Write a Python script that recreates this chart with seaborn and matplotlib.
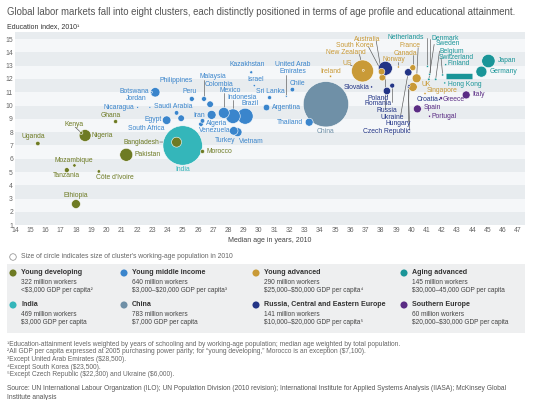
import matplotlib
matplotlib.use("Agg")
import matplotlib.pyplot as plt
import seaborn as sns
import pandas as pd
from matplotlib.patches import Rectangle

sns.set_theme(style="white")
plt.rcParams['font.family'] = ['Liberation Sans', 'DejaVu Sans']

# ---------------- data ----------------
countries = [
    "Uganda", "Kenya", "Nigeria", "Ghana", "Mozambique", "Tanzania", "Côte d'Ivoire", "Ethiopia",
    "Pakistan", "Bangladesh", "Morocco",
    "Botswana", "Philippines", "Jordan", "Nicaragua", "Saudi Arabia", "Egypt", "South Africa", "Peru",
    "Malaysia", "Colombia", "Iran", "Algeria", "Venezuela", "Mexico", "Indonesia", "Brazil", "Turkey",
    "Vietnam", "Kazakhstan", "Israel", "Sri Lanka", "Argentina", "United Arab Emirates", "Chile", "Thailand",
    "China", "India",
    "US", "Ireland", "New Zealand", "Australia", "South Korea", "Norway", "France", "Canada", "UK", "Singapore",
    "Russia", "Slovakia", "Poland", "Romania", "Ukraine", "Hungary", "Czech Republic", "Croatia",
    "Netherlands", "Denmark", "Sweden", "Belgium", "Switzerland", "Finland", "Hong Kong", "Japan", "Germany",
    "Italy", "Spain", "Portugal", "Greece",
]
clusters = (["Young developing"] * 11 + ["Young middle income"] * 25 + ["China", "India"]
            + ["Young advanced"] * 10 + ["Russia, Central and Eastern Europe"] * 8
            + ["Aging advanced"] * 9 + ["Southern Europe"] * 4)
median_age = [
    15.5, 18.35, 18.6, 20.6, 17.9, 17.4, 19.5, 18.0, 21.3, 24.6, 26.3,
    22.95, 23.2, 22.85, 22.05, 24.6, 23.95, 24.9, 25.6, 26.4, 26.8, 26.9, 26.3, 26.2, 27.7, 28.3, 29.1, 28.35,
    28.6, 29.5, 29.7, 30.7, 30.5, 31.8, 32.2, 33.3,
    34.4, 25.0,
    36.8, 34.7, 36.85, 38.1, 38.05, 39.15, 40.35, 40.1, 40.1, 40.9,
    38.3, 37.4, 38.4, 38.75, 39.8, 39.85, 39.8, 41.85,
    41.06, 41.2, 41.15, 41.6, 42.06, 42.26, 42.2, 45.06, 44.6,
    43.6, 40.4, 41.2, 41.95,
]
education = [
    7.15, 7.95, 7.75, 8.8, 5.5, 5.15, 5.05, 2.6, 6.3, 7.25, 6.55,
    11.0, 11.0, 9.87, 9.87, 9.45, 8.9, 9.05, 10.5, 10.5, 10.1, 9.3, 8.85, 8.6, 9.45, 9.2, 9.2, 8.1,
    8.0, 12.5, 11.5, 10.6, 9.85, 10.7, 11.2, 8.75,
    10.1, 7.0,
    12.6, 12.2, 12.65, 12.1, 12.55, 12.9, 12.05, 12.85, 11.4, 10.9,
    12.8, 11.4, 11.1, 11.5, 12.5, 11.5, 11.4, 10.45,
    12.95, 12.35, 11.97, 11.97, 12.3, 13.07, 11.7, 13.35, 12.55,
    10.8, 9.75, 9.2, 10.55,
]
workers = [  # working-age population estimate (millions) read from circle areas
    6, 3, 43, 5, 3.5, 7.5, 3.5, 24, 51, 30, 5,
    1.2, 27, 1.2, 1.2, 6.4, 22, 13, 7.5, 7.5, 13, 24, 6.4, 6.4, 36, 64, 77, 22,
    24, 2.7, 1.7, 4.8, 13, 1.2, 6.4, 19,
    622, 469,
    146, 1.7, 1.2, 13, 13, 1.5, 24, 11, 24, 1.5,
    59, 1.5, 16.5, 7.5, 16.5, 1.5, 1.5, 1.2,
    1.5, 1.5, 2, 2, 1.5, 1.5, 1.5, 54, 36.5,
    19, 19, 1.5, 3,
]
# aging-advanced group bar (several small economies drawn as one band)
bar_age_start = [42.3]
bar_age_end = [44.0]
bar_edu = [12.2]

x_ticks = list(range(14, 48))
y_ticks = list(range(1, 16))

legend_clusters = ["Young developing", "Young middle income", "Young advanced", "Aging advanced",
                   "India", "China", "Russia, Central and Eastern Europe", "Southern Europe"]
legend_workers = ["322 million workers", "640 million workers", "290 million workers", "145 million workers",
                  "469 million workers", "783 million workers", "141 million workers", "60 million workers"]
legend_gdp = ["<$3,000 GDP per capita²", "$3,000–$20,000 GDP per capita³", "$25,000–$50,000 GDP per capita⁴",
              "$30,000–45,000 GDP per capita", "$3,000 GDP per capita", "$7,000 GDP per capita",
              "$10,000–$20,000 GDP per capita⁵", "$20,000–$30,000 GDP per capita"]

footnotes = [
    "¹Education-attainment levels weighted by years of schooling and by working-age population; median age weighted by total population.",
    "²All GDP per capita expressed at 2005 purchasing power parity; for “young developing,” Morocco is an exception ($7,100).",
    "³Except United Arab Emirates ($28,500).",
    "⁴Except South Korea ($23,500).",
    "⁵Except Czech Republic ($22,300) and Ukraine ($6,000).",
]
source = ("Source: UN International Labour Organization (ILO); UN Population Division (2010 revision); International Institute for Applied Systems Analysis (IIASA); McKinsey Global\nInstitute analysis")

# ---------------- styles ----------------
palette = {
    "Young developing": "#6e7b24",
    "Young middle income": "#3a85cc",
    "Young advanced": "#c99a37",
    "Aging advanced": "#1a9598",
    "India": "#34b6ba",
    "China": "#6f90a7",
    "Russia, Central and Eastern Europe": "#233586",
    "Southern Europe": "#5a2c84",
}

df = pd.DataFrame({"country": countries, "cluster": clusters, "age": median_age,
                   "edu": education, "workers": workers})
df = df.sort_values("workers", ascending=False)

fig = plt.figure(figsize=(5.53, 4.0), dpi=100)
ax = fig.add_axes([15 / 553, 1 - 225.3 / 400, 510 / 553, 192.9 / 400])

# background bands
for i, y0 in enumerate(range(1, 16)):
    ax.axhspan(y0, y0 + 1, color="#e8ecef" if i % 2 == 0 else "#f5f7f9", zorder=0, lw=0)

sns.scatterplot(data=df, x="age", y="edu", hue="cluster", palette=palette, size="workers",
                sizes=(0, 1717), size_norm=(0, 1000), edgecolor="white", linewidth=0.4,
                alpha=1, legend=False, ax=ax, zorder=3)
ax.hlines(bar_edu, bar_age_start, bar_age_end, color=palette["Aging advanced"], lw=3.9, zorder=3)

ax.set_xlim(14, 47.46)
ax.set_ylim(1, 15.5)
ax.set_xticks(x_ticks)
ax.set_yticks(y_ticks)
ax.tick_params(axis="both", length=0, labelsize=4.9, labelcolor="#666666", pad=1.5)
for s in ax.spines.values():
    s.set_visible(False)
ax.set_xlabel("Median age in years, 2010", fontsize=5.0, color="#444444", labelpad=2)
ax.set_ylabel("")

# country labels (layout)
label_layout = {
    "Uganda": (15.2, 7.66, "center"), "Kenya": (17.87, 8.56, "center"), "Nigeria": (19.0, 7.74, "left"),
    "Ghana": (20.3, 9.24, "center"), "Mozambique": (17.87, 5.86, "center"), "Tanzania": (17.35, 4.73, "center"),
    "Côte d'Ivoire": (19.3, 4.6, "left"), "Ethiopia": (18.0, 3.26, "center"), "Pakistan": (21.85, 6.29, "left"),
    "Bangladesh": (23.47, 7.26, "right"), "Morocco": (26.55, 6.53, "left"), "India": (25.0, 5.23, "center"),
    "Egypt": (23.6, 8.92, "right"), "South Africa": (22.64, 8.24, "center"), "Algeria": (26.5, 8.62, "left"),
    "Venezuela": (27.12, 8.09, "center"), "Turkey": (27.78, 7.34, "center"), "Vietnam": (29.53, 7.29, "center"),
    "Iran": (26.45, 9.24, "right"), "Philippines": (24.56, 11.85, "center"), "Botswana": (22.8, 11.05, "right"),
    "Jordan": (21.94, 10.5, "center"), "Nicaragua": (21.85, 9.87, "right"),
    "Saudi Arabia": (24.35, 9.95, "center"), "Peru": (25.48, 11.05, "center"), "Malaysia": (27.0, 12.17, "center"),
    "Colombia": (27.4, 11.6, "center"), "Mexico": (28.1, 11.12, "center"), "Indonesia": (28.87, 10.62, "center"),
    "Brazil": (29.4, 10.17, "center"), "Kazakhstan": (29.24, 13.05, "center"), "Israel": (29.8, 11.98, "center"),
    "Sri Lanka": (29.8, 11.05, "left"), "Argentina": (30.84, 9.87, "left"),
    "United Arab Emirates": (32.2, 12.8, "center"), "Chile": (32.5, 11.68, "center"),
    "Thailand": (32.92, 8.74, "right"), "China": (34.4, 8.04, "center"), "Ireland": (34.73, 12.55, "center"),
    "US": (35.8, 13.18, "center"), "New Zealand": (35.7, 13.98, "center"), "South Korea": (36.3, 14.48, "center"),
    "Australia": (37.08, 14.98, "center"), "Slovakia": (37.25, 11.37, "right"), "Poland": (37.84, 10.55, "center"),
    "Romania": (37.84, 10.12, "center"), "Russia": (38.4, 9.62, "center"), "Ukraine": (38.78, 9.12, "center"),
    "Hungary": (39.15, 8.62, "center"), "Czech Republic": (38.4, 8.04, "center"), "France": (39.92, 14.48, "center"),
    "Canada": (39.6, 13.93, "center"), "Norway": (38.87, 13.43, "center"), "Netherlands": (39.66, 15.1, "center"),
    "Denmark": (42.2, 15.07, "center"), "Sweden": (42.37, 14.63, "center"), "Belgium": (42.68, 14.1, "center"),
    "Switzerland": (42.98, 13.63, "center"), "Finland": (43.13, 13.13, "center"), "Japan": (45.65, 13.38, "left"),
    "Germany": (45.12, 12.55, "left"), "Hong Kong": (42.43, 11.6, "left"), "UK": (40.69, 11.55, "left"),
    "Singapore": (41.0, 11.12, "left"), "Croatia": (40.36, 10.47, "left"), "Greece": (42.05, 10.42, "left"),
    "Italy": (44.0, 10.85, "left"), "Spain": (40.8, 9.84, "left"), "Portugal": (41.3, 9.17, "left"),
}
label_text = {"United Arab Emirates": "United Arab\nEmirates"}
leaders = {
    "Kenya": (17.95, 8.38), "Bangladesh": (23.5, 7.26), "Malaysia": (26.4, 11.95), "Mexico": (27.7, 10.95),
    "Indonesia": (28.3, 10.45), "United Arab Emirates": (31.8, 12.3), "US": (36.0, 13.05),
    "South Korea": (37.2, 14.4), "Australia": (37.7, 14.85), "New Zealand": (36.6, 13.85),
    "Norway": (39.15, 13.3), "Canada": (40.1, 13.8), "France": (40.45, 14.35),
    "Poland": (38.4, 10.7), "Romania": (38.75, 10.25), "Russia": (38.3, 9.75), "Ukraine": (39.3, 9.25),
    "Hungary": (39.8, 8.75), "Czech Republic": (39.9, 8.15), "Netherlands": (41.06, 15.05),
    "Denmark": (41.2, 15.0), "Sweden": (41.5, 14.6), "Belgium": (41.85, 14.1), "Switzerland": (41.95, 13.6),
}
pos = {c: (a, e) for c, a, e in zip(countries, median_age, education)}
ccl = dict(zip(countries, clusters))
for c, (lx, ly) in leaders.items():
    px, py = pos[c]
    ax.plot([lx, px], [ly, py], color="#555555", lw=0.45, zorder=2.5)
for c, (tx, ty, ha) in label_layout.items():
    ax.text(tx, ty, label_text.get(c, c), fontsize=4.9, color=palette[ccl[c]], ha=ha, va="center",
            zorder=5, linespacing=0.95)

# ---------------- header / legend / footnotes (pixel layout) ----------------
lax = fig.add_axes([0, 0, 1, 1], zorder=-1)
lax.set_xlim(0, 553)
lax.set_ylim(400, 0)
lax.axis("off")

lax.text(7, 12, "Global labor markets fall into eight clusters, each distinctly positioned in terms of age profile and educational attainment.",
         fontsize=6.9, color="#555555", va="center")
lax.text(7, 27, "Education index, 2010¹", fontsize=5.0, color="#333333", va="center")

lax.scatter([13], [257], s=22, facecolor="none", edgecolor="#888888", linewidth=0.5)
lax.text(21, 257, "Size of circle indicates size of cluster's working-age population in 2010",
         fontsize=4.9, color="#666666", va="center")

lax.add_patch(Rectangle((7, 264), 518, 69, facecolor="#eeeff0", edgecolor="none"))
col_x = [13, 124, 256, 404]
row_y = [273, 305]
for i, name in enumerate(legend_clusters):
    cx = col_x[i % 4]
    ry = row_y[i // 4]
    lax.scatter([cx], [ry], s=26, color=palette[name], edgecolor="none")
    lax.text(cx + 8, ry, name, fontsize=5.1, fontweight="bold", color="#333333", va="center")
    lax.text(cx + 8, ry + 9, legend_workers[i], fontsize=4.7, color="#444444", va="center", parse_math=False)
    lax.text(cx + 8, ry + 18, legend_gdp[i], fontsize=4.7, color="#444444", va="center", parse_math=False)

for k, fn in enumerate(footnotes):
    lax.text(7, 344 + k * 7.7, fn, fontsize=4.8, color="#666666", va="center", parse_math=False)
lax.text(7, 385, source, fontsize=4.8, color="#555555", va="top", linespacing=1.4, parse_math=False)

fig.savefig("out.png", dpi=100, facecolor="white")
